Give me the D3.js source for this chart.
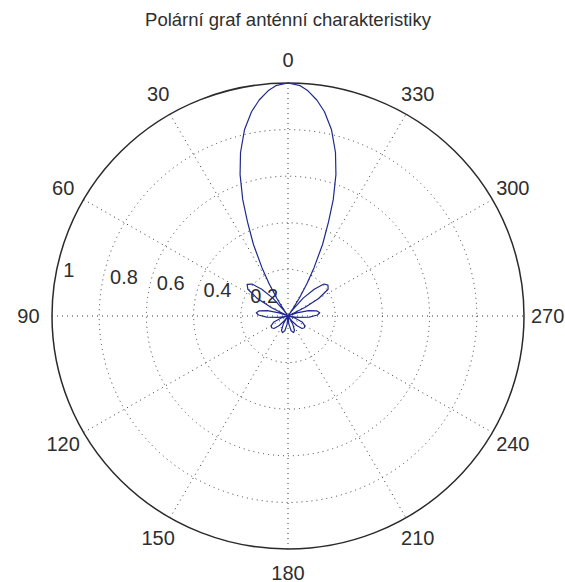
<!DOCTYPE html>
<html>
<head>
<meta charset="utf-8">
<script src="https://cdn.jsdelivr.net/npm/d3@7"></script>
<style>
  html, body { margin: 0; padding: 0; background: #fff; }
  svg { display: block; }
  text { font-family: "Liberation Sans", Arial, Helvetica, sans-serif; fill: #2e2e2e; }
</style>
</head>
<body>
<svg id="chart" width="565" height="582"></svg>
<script>
// Antenna radiation pattern: angle in degrees (0 = up, counter-clockwise) and normalised gain
const angleDeg = [
  0, 3, 5, 7.5, 10, 13, 16, 18.5, 21, 23, 25.5, 28, 30, 32, 34, 35,
  36, 40, 44, 48, 52, 56, 60, 63, 66,
  70, 75, 80, 84, 88, 93, 98, 102,
  107, 113, 120, 126, 132, 138, 142, 145,
  150, 156, 162, 168, 174, 180,
  186, 192, 198, 204, 210, 215,
  218, 222, 228, 234, 240, 247, 253, 258,
  262, 267, 272, 276, 280, 285, 290, 294,
  297, 300, 304, 308, 312, 316, 320, 324,
  325, 326, 328, 330, 332, 334.5, 337, 339, 341.5, 344, 347, 350, 352.5, 355, 357, 360
];
const gain = [
  1.00, 0.99, 0.97, 0.935, 0.89, 0.82, 0.73, 0.64, 0.535, 0.44, 0.34, 0.235, 0.16, 0.09, 0.03, 0,
  0.03, 0.10, 0.16, 0.205, 0.22, 0.205, 0.15, 0.08, 0,
  0.04, 0.09, 0.125, 0.135, 0.125, 0.09, 0.04, 0,
  0.03, 0.065, 0.082, 0.086, 0.08, 0.055, 0.025, 0,
  0.04, 0.068, 0.075, 0.065, 0.035, 0,
  0.035, 0.065, 0.075, 0.068, 0.04, 0,
  0.025, 0.055, 0.08, 0.086, 0.082, 0.065, 0.03, 0,
  0.04, 0.09, 0.125, 0.135, 0.125, 0.09, 0.04, 0,
  0.08, 0.15, 0.205, 0.215, 0.205, 0.16, 0.10, 0.03,
  0, 0.03, 0.09, 0.16, 0.235, 0.34, 0.44, 0.535, 0.64, 0.73, 0.82, 0.89, 0.935, 0.97, 0.99, 1.00
];
const ringValues = [0.2, 0.4, 0.6, 0.8, 1];
const ringLabels = ["0.2", "0.4", "0.6", "0.8", "1"];
const spokeAngles = [0, 30, 60, 90, 120, 150, 180, 210, 240, 270, 300, 330];
const spokeLabels = ["0", "30", "60", "90", "120", "150", "180", "210", "240", "270", "300", "330"];
const chartTitle = "Polární graf anténní charakteristiky";

const svg = d3.select("#chart");
const cx = 288, cy = 316;
const rx = d3.scaleLinear().domain([0, 1]).range([0, 236]);
const ry = d3.scaleLinear().domain([0, 1]).range([0, 233]);
const rad = d => d * Math.PI / 180;
const px = (a, r) => cx - rx(r) * Math.sin(rad(a));
const py = (a, r) => cy - ry(r) * Math.cos(rad(a));

const fs = 20;

// dotted grid rings
svg.append("g").selectAll("ellipse")
  .data(ringValues.slice(0, -1))
  .join("ellipse")
  .attr("cx", cx).attr("cy", cy)
  .attr("rx", d => rx(d)).attr("ry", d => ry(d))
  .attr("fill", "none").attr("stroke", "#3a3a3a")
  .attr("stroke-width", 1).attr("stroke-dasharray", "1,4");

// dotted spokes across the full diameter
svg.append("g").selectAll("line")
  .data(spokeAngles.slice(0, 6))
  .join("line")
  .attr("x1", d => px(d, 1)).attr("y1", d => py(d, 1))
  .attr("x2", d => px(d + 180, 1)).attr("y2", d => py(d + 180, 1))
  .attr("stroke", "#3a3a3a").attr("stroke-width", 1).attr("stroke-dasharray", "1,4");

// solid outer boundary
svg.append("ellipse")
  .attr("cx", cx).attr("cy", cy)
  .attr("rx", rx(1)).attr("ry", ry(1))
  .attr("fill", "none").attr("stroke", "#2a2a2a").attr("stroke-width", 1.5);

// radial tick labels along the 82 degree direction
svg.append("g").selectAll("text")
  .data(ringValues)
  .join("text")
  .attr("x", d => cx - rx(d) * Math.sin(rad(82)) + 9)
  .attr("y", d => cy - ry(d) * Math.cos(rad(82)) - 6.5)
  .attr("font-size", fs)
  .text((d, i) => ringLabels[i]);

// angle labels outside the boundary
svg.append("g").selectAll("text")
  .data(spokeAngles)
  .join("text")
  .attr("x", d => px(d, 1.1))
  .attr("y", d => py(d, 1.1) + 0.36 * fs)
  .attr("text-anchor", "middle")
  .attr("font-size", fs)
  .text((d, i) => spokeLabels[i]);

// pattern curve
const pts = angleDeg.map((a, i) => [px(a, gain[i]), py(a, gain[i])]);
svg.append("path")
  .attr("d", d3.line()(pts))
  .attr("fill", "none")
  .attr("stroke", "#1f2a8c")
  .attr("stroke-width", 1.2)
  .attr("stroke-linejoin", "round");

// title
svg.append("text")
  .attr("x", cx).attr("y", 26)
  .attr("text-anchor", "middle")
  .attr("font-size", 18.5)
  .text(chartTitle);
</script>
</body>
</html>
